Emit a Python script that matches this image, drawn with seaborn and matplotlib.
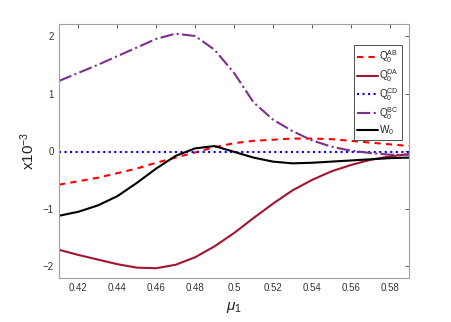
import numpy as np
import pandas as pd
import matplotlib
matplotlib.use("Agg")
import matplotlib.pyplot as plt
import seaborn as sns

# data (values in units of 1e-3)
mu1 = [0.41, 0.42, 0.43, 0.44, 0.45, 0.46, 0.47, 0.48, 0.49, 0.50,
       0.51, 0.52, 0.53, 0.54, 0.55, 0.56, 0.57, 0.58, 0.59]
q_ab = [-0.58, -0.52, -0.46, -0.38, -0.30, -0.20, -0.11, -0.02, 0.07, 0.14,
        0.18, 0.20, 0.22, 0.22, 0.21, 0.18, 0.15, 0.12, 0.09]
q_da = [-1.71, -1.80, -1.88, -1.96, -2.02, -2.03, -1.97, -1.84, -1.65, -1.42,
        -1.16, -0.91, -0.68, -0.50, -0.35, -0.24, -0.15, -0.09, -0.05]
q_cd = [-0.01] * 19
q_bc = [1.22, 1.36, 1.50, 1.65, 1.80, 1.95, 2.04, 2.00, 1.76, 1.36,
        0.85, 0.55, 0.35, 0.19, 0.08, 0.01, -0.03, -0.06, -0.06]
w0 = [-1.12, -1.05, -0.94, -0.78, -0.55, -0.30, -0.08, 0.05, 0.09, -0.01,
      -0.11, -0.18, -0.21, -0.20, -0.18, -0.16, -0.14, -0.12, -0.11]

xticks = [0.42, 0.44, 0.46, 0.48, 0.50, 0.52, 0.54, 0.56, 0.58]
xticklabels = ['0.42', '0.44', '0.46', '0.48', '0.5', '0.52', '0.54', '0.56', '0.58']
yticks = [-2, -1, 0, 1, 2]

series = [
    (r'Q$_0^{\mathrm{AB}}$', q_ab, '#ff0000', (0, (3, 2.5)), 1.5),
    (r'Q$_0^{\mathrm{DA}}$', q_da, '#a2142f', '-', 1.5),
    (r'Q$_0^{\mathrm{CD}}$', q_cd, '#0000ff', ':', 1.5),
    (r'Q$_0^{\mathrm{BC}}$', q_bc, '#7e2f8e', '-.', 1.5),
    (r'W$_0$', w0, '#000000', '-', 1.5),
]

sns.set_style("white")
plt.rcParams['font.family'] = ['Liberation Sans', 'DejaVu Sans']
plt.rcParams['mathtext.fontset'] = 'custom'
plt.rcParams['mathtext.rm'] = 'Liberation Sans'
plt.rcParams['mathtext.it'] = 'Liberation Sans:italic'

fig = plt.figure(figsize=(4.52, 3.22), dpi=100)
ax = fig.add_axes([0.1305, 0.1366, 0.7745, 0.7874])

for label, vals, color, ls, lw in series:
    df = pd.DataFrame({'mu': mu1, 'val': vals})
    sns.lineplot(data=df, x='mu', y='val', ax=ax, color=color,
                 linestyle=ls, linewidth=lw, label=label)

ax.set_xlim(0.41, 0.59)
ax.set_ylim(-2.2, 2.2)
ax.set_xticks(xticks)
ax.set_xticklabels(xticklabels)
ax.set_yticks(yticks)
ax.tick_params(direction='in', length=3, width=0.6, colors='#404040',
               labelsize=7, top=True, right=True, labelcolor='#333333')
for s in ax.spines.values():
    s.set_color('#a0a0a0')
    s.set_linewidth(0.8)

ax.set_xlabel(r'$\mu_1$', fontsize=11, color='#222222', labelpad=5)
ax.set_ylabel(r'x10$^{-3}$', fontsize=11, color='#222222', labelpad=4)

leg = ax.legend(loc='upper right', bbox_to_anchor=(0.986, 0.925), fontsize=7.2,
                handlelength=2.1, handletextpad=0.12, borderpad=0.3,
                labelspacing=0.2, fancybox=False, framealpha=1,
                borderaxespad=0.2)
leg.get_frame().set_edgecolor('#333333')
leg.get_frame().set_linewidth(0.6)

fig.savefig('out.png', dpi=100)
